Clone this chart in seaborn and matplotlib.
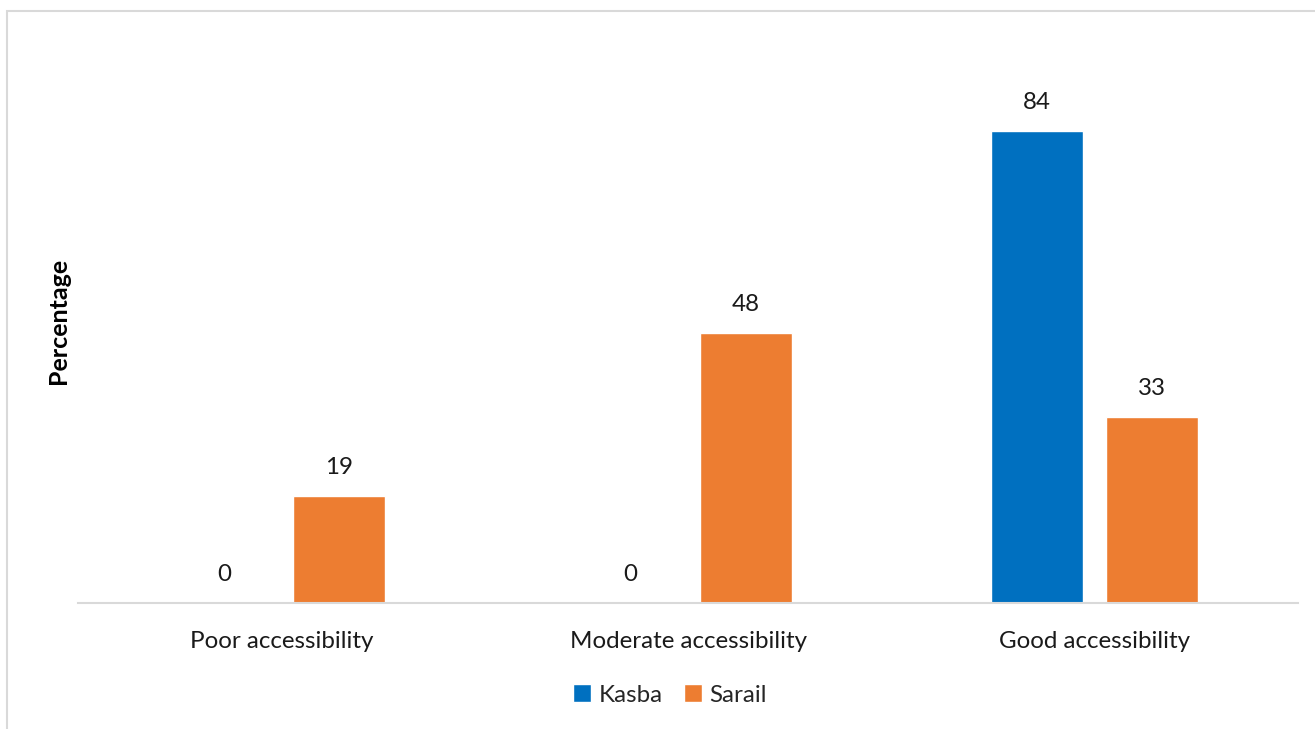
import matplotlib
matplotlib.use("Agg")
import matplotlib.pyplot as plt
import seaborn as sns
import pandas as pd
from matplotlib.patches import Rectangle

categories = ["Poor accessibility", "Moderate accessibility", "Good accessibility"]
series_names = ["Kasba", "Sarail"]
kasba = [0, 0, 84]
sarail = [19, 48, 33]
colors = ["#0070C0", "#ED7D31"]

df = pd.DataFrame({
    "Category": categories * 2,
    "Area": [series_names[0]] * 3 + [series_names[1]] * 3,
    "Value": kasba + sarail,
})

sns.set_theme(style="white")
plt.rcParams['font.family'] = ['Lato', 'DejaVu Sans']

FS = 17.4
W, H = 1315, 729
fig = plt.figure(figsize=(W / 100, H / 100), dpi=100)
ax = fig.add_axes([78 / W, 1 - 603 / H, (1298 - 78) / W, (603 - 97) / H])

sns.barplot(data=df, x="Category", y="Value", hue="Area", order=categories,
            hue_order=series_names, palette=colors, width=0.566, gap=0.2,
            ax=ax, saturation=1, legend=True)

ax.set_ylim(0, 90)
ax.set_xlim(-0.5, 2.5)
for c in ax.containers:
    ax.bar_label(c, labels=[f"{v:.0f}" for v in c.datavalues], padding=13,
                 fontsize=FS, color="#1a1a1a")

for s in ["top", "right", "left"]:
    ax.spines[s].set_visible(False)
ax.spines["bottom"].set_color("#D9D9D9")
ax.spines["bottom"].set_linewidth(1.5)
ax.set_yticks([])
ax.tick_params(axis="x", length=0, labelsize=FS, colors="#1a1a1a", pad=20)
ax.set_xlabel("")
ax.set_ylabel("Percentage", fontsize=18, fontweight="bold", color="black")
ax.yaxis.set_label_coords(-0.0156, (603 - 321) / (603 - 97), transform=ax.transAxes)
ax.yaxis.label.set_va("center")

leg = ax.legend(loc="center", bbox_to_anchor=(670 / W, 1 - 695 / H),
                bbox_transform=fig.transFigure, ncol=2, frameon=False,
                fontsize=FS, handlelength=0.75, handleheight=0.75,
                handletextpad=0.3, columnspacing=0.9)

fig.patches.append(Rectangle((7 / W, -0.1), 2, (H - 11) / H + 0.1,
                             transform=fig.transFigure, fill=False,
                             edgecolor="#D9D9D9", linewidth=1.5))

fig.savefig("out.png", dpi=100, facecolor="white")
